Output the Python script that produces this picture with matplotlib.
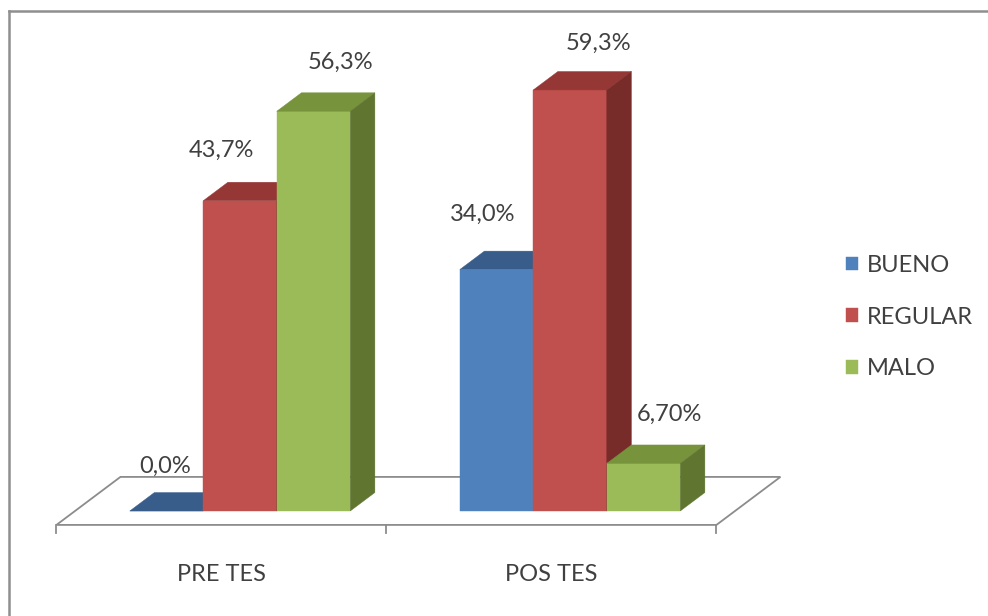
import matplotlib
matplotlib.use('Agg')
import matplotlib.pyplot as plt
from matplotlib.patches import Polygon
from matplotlib.lines import Line2D

plt.rcParams['font.family'] = ['Lato', 'DejaVu Sans']

categories = ['PRE TES', 'POS TES']
series = ['BUENO', 'REGULAR', 'MALO']
bueno = [0.0, 34.0]
regular = [43.7, 59.3]
malo = [56.3, 6.70]
value_labels = [['0,0%', '34,0%'], ['43,7%', '59,3%'], ['56,3%', '6,70%']]

front_colors = ['#4F81BD', '#C0504D', '#9BBB59']
top_colors = ['#385D8A', '#953735', '#77933C']
side_colors = ['#2C4D75', '#772C2A', '#5F7530']
text_color = '#404040'
fsize = 17

# label nudges in pixels from the centre of each bar's back top edge
label_dx = [[-26, -38], [-43, 4], [2, 1]]
label_dy = [[26, 37], [32, 28], [30, 31]]

W, H, DPI = 988, 616, 100
fig = plt.figure(figsize=(W / DPI, H / DPI), dpi=DPI)
ax = fig.add_axes([0, 0, 1, 1])

# axes scaled so one category = 330 px and 1 % = 7.1 px
px_cat, px_pct = 330.0, 7.1
x0, y0 = 240.0, 511.0
ax.set_xlim(-x0 / px_cat, (W - x0) / px_cat)
ax.set_ylim((y0 - H) / px_pct, y0 / px_pct)
ax.axis('off')

# oblique depth direction (per unit of floor depth)
ddx = 64 / px_cat
ddy = 48 / px_pct
bar_d = 0.385
floor_front, floor_back = -0.29, 0.71
width = 73.5 / px_cat


def proj(x, y, d):
    return (x + d * ddx, y + d * ddy)


# floor
lo, hi = -0.5, len(categories) - 0.5
floor = [proj(lo, 0, floor_front), proj(hi, 0, floor_front),
         proj(hi, 0, floor_back), proj(lo, 0, floor_back)]
ax.add_patch(Polygon(floor, closed=True, facecolor='white', edgecolor='#8c8c8c',
                     lw=1.3, zorder=1))
tick_len = 8 / px_pct
for t in [lo + k for k in range(len(categories) + 1)]:
    fx, fy = proj(t, 0, floor_front)
    ax.plot([fx, fx], [fy, fy - tick_len], color='#8c8c8c', lw=1.3, zorder=1)

for i, cat in enumerate(categories):
    fx, fy = proj(i, 0, floor_front)
    ax.text(fx, fy - 50 / px_pct, cat, ha='center', va='center',
            fontsize=fsize, color=text_color)

# bars: front face with ax.bar, then top and side faces
z = 2
for s, vals in enumerate([bueno, regular, malo]):
    xs = [i + (s - 1) * width for i in range(len(categories))]
    ax.bar(xs, vals, width=width, color=front_colors[s], label=series[s],
           edgecolor=front_colors[s], linewidth=0.3, zorder=z)
    for i, (x, v) in enumerate(zip(xs, vals)):
        l, r = x - width / 2, x + width / 2
        top = [(l, v), (r, v), proj(r, v, bar_d), proj(l, v, bar_d)]
        side = [(r, 0), (r, v), proj(r, v, bar_d), proj(r, 0, bar_d)]
        ax.add_patch(Polygon(top, closed=True, facecolor=top_colors[s],
                             edgecolor=top_colors[s], lw=0.3, zorder=z + 0.1))
        ax.add_patch(Polygon(side, closed=True, facecolor=side_colors[s],
                             edgecolor=side_colors[s], lw=0.3, zorder=z + 0.1))
        ax.annotate(value_labels[s][i], proj(x, v, bar_d),
                    xytext=(label_dx[s][i] * 72 / DPI, label_dy[s][i] * 72 / DPI),
                    textcoords='offset points', ha='center', va='center',
                    fontsize=fsize, color=text_color, zorder=10)
    z += 1

ax.legend(loc='center left', bbox_to_anchor=(846 / W, 1 - 317 / H),
          frameon=False, fontsize=fsize, labelcolor=text_color,
          handlelength=0.5, handleheight=0.5, handletextpad=0.4,
          labelspacing=1.3, borderpad=0, borderaxespad=0)

# chart area border (left and top edges)
border = '#8f8f8f'
fig.add_artist(Line2D([8.5 / W, 8.5 / W], [0, 1 - 11 / H], color=border, lw=1.8))
fig.add_artist(Line2D([8.5 / W, 1], [1 - 11 / H, 1 - 11 / H], color=border, lw=1.8))

fig.savefig('out.png', dpi=DPI)
